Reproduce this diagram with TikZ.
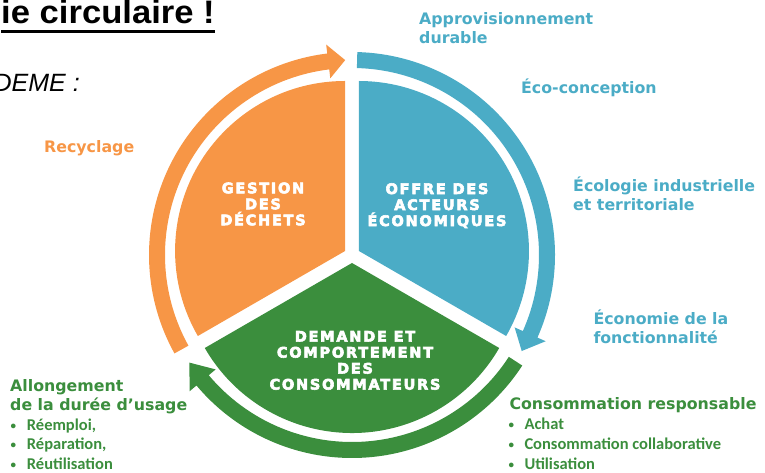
\documentclass[tikz,border=0pt]{standalone}
\usepackage{fontspec}
\setmainfont{DejaVu Sans}
\newfontfamily\labfont{DejaVu Sans}
\newfontfamily\slicefont{DejaVu Sans Bold}[LetterSpace=12, FakeBold=4]
\newfontfamily\calfont{Carlito}
\newfontfamily\arifont{Liberation Sans}
\newfontfamily\titlefont{Liberation Sans Bold}[FakeStretch=1.065]
\definecolor{corange}{HTML}{F79646}
\definecolor{cblue}{HTML}{4BACC6}
\definecolor{cgreen}{HTML}{3B8E3D}
\newcommand{\smallbul}{\raisebox{1.2pt}{\fontsize{11}{11}\selectfont•}}
\begin{document}
\begin{tikzpicture}[x=1pt,y=1pt,
  lab/.style={inner sep=0pt, anchor=base west, font=\labfont\bfseries\fontsize{15.8}{19}\selectfont},
  item/.style={inner sep=0pt, anchor=base west, font=\calfont\bfseries\fontsize{16.5}{19}\selectfont},
  slicetxt/.style={inner sep=0pt, align=center, text=white, font=\slicefont\fontsize{14.5}{16}\selectfont},
]
\useasboundingbox (0,0) rectangle (765,473);
\coordinate (C) at (352,218);
\begin{scope}[shift={(C)}]
  % slices
  \fill[corange] (150:8pt) -- ++(90:170pt) arc[start angle=90,end angle=210,radius=170pt] -- cycle;
  \fill[cblue]   (30:8pt)  -- ++(-30:170pt) arc[start angle=-30,end angle=90,radius=170pt] -- cycle;
  \fill[cgreen]  (270:8pt) -- ++(210:170pt) arc[start angle=210,end angle=330,radius=170pt] -- cycle;
  % ring arrows
  \fill[corange] (209:187pt) arc[start angle=209,end angle=97,radius=187pt] -- (97:178pt) -- (92:195pt) -- (97:212pt) -- (97:203pt) arc[start angle=97,end angle=209,radius=203pt] -- cycle;
  \fill[cblue] (88.5:187pt) arc[start angle=88.5,end angle=-24,radius=187pt] -- (-24:178pt) -- (-29.5:195pt) -- (-24:212pt) -- (-24:203pt) arc[start angle=-24,end angle=88.5,radius=203pt] -- cycle;
  \fill[cgreen] (-33:187pt) arc[start angle=-33,end angle=-140,radius=187pt] -- (-140:178pt) -- (-146.5:195pt) -- (-140:212pt) -- (-140:203pt) arc[start angle=-140,end angle=-33,radius=203pt] -- cycle;
\end{scope}
% slice texts
\node[slicetxt] (gestion) at (263,269) {GESTION\\DES\\DÉCHETS};
\node[slicetxt] (offre) at (437,267.3) {OFFRE DES\\ACTEURS\\ÉCONOMIQUES};
\node[slicetxt] (demande) at (355,112.6) {DEMANDE ET\\COMPORTEMENT\\DES\\CONSOMMATEURS};
% title
\node[inner sep=0pt, anchor=base east, font=\titlefont\fontsize{32.5}{38}\selectfont] (title) at (215,449) {ie circulaire !};
\draw[line width=2.5pt] ([yshift=-7.5pt]title.base west) -- ([yshift=-7.5pt]title.base east);
\node[inner sep=0pt, anchor=base east, font=\arifont\itshape\fontsize{25}{30}\selectfont] (ademe) at (80,381) {DEME :};
% blue labels
\node[lab, text=cblue] (appro1) at (419,448) {Approvisionnement};
\node[lab, text=cblue] (appro2) at (419,429) {durable};
\node[lab, text=cblue] (eco) at (521,379) {Éco-conception};
\node[lab, text=cblue] (ecol1) at (573,281.3) {Écologie industrielle};
\node[lab, text=cblue] (ecol2) at (573,262.3) {et territoriale};
\node[lab, text=cblue] (fonc1) at (593.3,148) {Économie de la};
\node[lab, text=cblue] (fonc2) at (593.3,129.7) {fonctionnalité};
% orange label
\node[lab, text=corange] (recy) at (44,320.3) {Recyclage};
% green labels
\node[lab, text=cgreen] (conso) at (509.3,63) {Consommation responsable};
\node[item, text=cgreen] (achat) at (508.5,43) {\makebox[15.8pt][l]{\smallbul}Achat};
\node[item, text=cgreen] (collab) at (508.5,23.7) {\makebox[15.8pt][l]{\smallbul}Consommation collaborative};
\node[item, text=cgreen] (util) at (508.5,3.7) {\makebox[15.8pt][l]{\smallbul}Utilisation};
\node[lab, text=cgreen] (allong1) at (10,81.3) {Allongement};
\node[lab, text=cgreen] (allong2) at (10,62.3) {de la durée d’usage};
\node[item, text=cgreen] (reemp) at (10.5,42.3) {\makebox[16.2pt][l]{\smallbul}Réemploi,};
\node[item, text=cgreen] (repar) at (10.5,23) {\makebox[16.2pt][l]{\smallbul}Réparation,};
\node[item, text=cgreen] (reutil) at (10.5,3) {\makebox[16.2pt][l]{\smallbul}Réutilisation};
\end{tikzpicture}
\end{document}
